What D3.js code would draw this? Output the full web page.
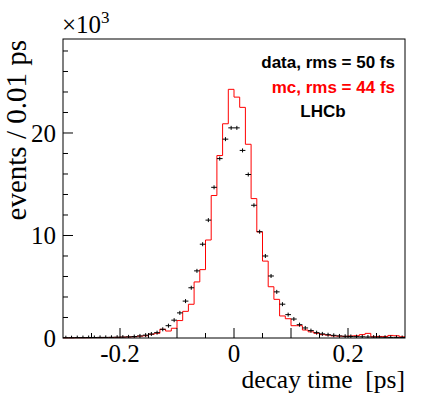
<!DOCTYPE html>
<html>
<head>
<meta charset="utf-8">
<script src="https://cdn.jsdelivr.net/npm/d3@7"></script>
<style>
  html, body { margin: 0; padding: 0; background: #fff; }
  svg { display: block; }
  .serif { font-family: "Liberation Serif", "Times New Roman", serif; }
  .sans { font-family: "Liberation Sans", Arial, sans-serif; font-weight: bold; }
</style>
</head>
<body>
<svg id="chart" width="427" height="398"></svg>
<script>
// decay time histogram, 60 bins of 0.01 ps from -0.3 to 0.3
const binLow = -0.3;
const binWidth = 0.01;

// data counts (black points)
const dataCounts = [
  30, 30, 40, 40, 50, 50, 60, 60, 70, 80,
  90, 110, 140, 200, 280, 390, 520, 850, 1200, 1740,
  2450, 3600, 4900, 6550, 9150, 11500, 14700, 17500, 19400, 20500,
  20500, 18300, 15950, 12950, 10370, 8000, 6050, 4500, 3300, 2280,
  1850, 1300, 980, 720, 520, 400, 320, 260, 200, 170,
  150, 130, 120, 100, 90, 80, 70, 60, 60, 50
];

// simulation counts (red histogram)
const mcCounts = [
  20, 20, 30, 30, 30, 40, 40, 50, 50, 60,
  80, 100, 120, 180, 220, 360, 460, 850, 680, 950,
  1700, 2600, 3290, 5470, 6670, 9560, 13900, 17800, 20900, 24260,
  23500, 22500, 18900, 13600, 10350, 7500, 5000, 3770, 2150, 1880,
  1200, 1200, 780, 600, 460, 330, 280, 200, 180, 160,
  200, 220, 330, 450, 120, 150, 150, 250, 220, 120
];

const xTickLabels = ["-0.2", "0", "0.2"];
const yTickLabels = ["0", "10", "20"];
const legendLines = [
  { text: "data, rms = 50 fs", color: "#000" },
  { text: "mc, rms = 44 fs", color: "#ff0000" },
];

const frame = { left: 63, right: 405, top: 39, bottom: 338 };

const svg = d3.select("#chart");

const x = d3.scaleLinear().domain([-0.3, 0.3]).range([frame.left, frame.right]);
const y = d3.scaleLinear().domain([0, 29170]).range([frame.bottom, frame.top]);

// red histogram as a step line
const mcPoints = mcCounts.map((c, i) => [binLow + i * binWidth, c]);
mcPoints.push([binLow + mcCounts.length * binWidth, mcCounts[mcCounts.length - 1]]);
const step = d3.line()
  .x(d => x(d[0]))
  .y(d => y(d[1]))
  .curve(d3.curveStepAfter);

svg.append("path")
  .attr("d", step(mcPoints))
  .attr("fill", "none")
  .attr("stroke", "#ff0000")
  .attr("stroke-width", 1);

// data points with error bars
const pts = svg.append("g").attr("stroke", "#000").attr("stroke-width", 1);
dataCounts.forEach((c, i) => {
  const x0 = x(binLow + i * binWidth);
  const x1 = x(binLow + (i + 1) * binWidth);
  const xc = (x0 + x1) / 2;
  const yc = y(c);
  const err = Math.max(y(0) - y(Math.sqrt(c)), 2);
  pts.append("line").attr("x1", x0).attr("x2", x1).attr("y1", yc).attr("y2", yc);
  pts.append("line").attr("x1", xc).attr("x2", xc).attr("y1", yc - err).attr("y2", Math.min(yc + err, frame.bottom));
});

// frame
svg.append("rect")
  .attr("x", frame.left).attr("y", frame.top)
  .attr("width", frame.right - frame.left)
  .attr("height", frame.bottom - frame.top)
  .attr("fill", "none").attr("stroke", "#000").attr("stroke-width", 1);

// x ticks
const xt = svg.append("g").attr("stroke", "#000");
d3.range(-0.25, 0.26, 0.05).forEach(v => {
  const major = Math.abs(Math.round(v * 100) % 10) === 0;
  xt.append("line")
    .attr("x1", x(v)).attr("x2", x(v))
    .attr("y1", frame.bottom).attr("y2", frame.bottom - (major ? 10 : 5));
});
svg.append("g").selectAll("text")
  .data(xTickLabels)
  .join("text")
  .attr("class", "serif")
  .attr("x", d => x(+d))
  .attr("y", 362)
  .attr("text-anchor", "middle")
  .attr("font-size", 25)
  .text(d => d);

// y ticks
const yt = svg.append("g").attr("stroke", "#000");
d3.range(2000, 29000, 2000).forEach(v => {
  const major = v % 10000 === 0;
  yt.append("line")
    .attr("x1", frame.left).attr("x2", frame.left + (major ? 10 : 5))
    .attr("y1", y(v)).attr("y2", y(v));
});
svg.append("g").selectAll("text")
  .data(yTickLabels)
  .join("text")
  .attr("class", "serif")
  .attr("x", 56)
  .attr("y", d => y(+d * 1000))
  .attr("dy", "0.35em")
  .attr("text-anchor", "end")
  .attr("font-size", 25)
  .text(d => d);

// exponent
const expo = svg.append("text")
  .attr("class", "serif")
  .attr("x", 62).attr("y", 33)
  .attr("font-size", 25);
expo.append("tspan").text("\u00d710");
expo.append("tspan").attr("font-size", 17).attr("dy", -10).text("3");

// axis titles
svg.append("text")
  .attr("class", "serif")
  .attr("x", frame.right).attr("y", 388)
  .attr("text-anchor", "end")
  .attr("font-size", 25.5)
  .style("white-space", "pre")
  .text("decay time  [ps]");

svg.append("text")
  .attr("class", "serif")
  .attr("transform", `translate(26,${frame.top + 1}) rotate(-90)`)
  .attr("text-anchor", "end")
  .attr("font-size", 29)
  .text("events / 0.01 ps");

// legend
svg.append("g").selectAll("text")
  .data(legendLines)
  .join("text")
  .attr("class", "sans")
  .attr("x", 395)
  .attr("y", (d, i) => 68 + i * 25)
  .attr("text-anchor", "end")
  .attr("font-size", 17)
  .attr("fill", d => d.color)
  .text(d => d.text);

svg.append("text")
  .attr("class", "sans")
  .attr("x", 323).attr("y", 117)
  .attr("text-anchor", "middle")
  .attr("font-size", 17)
  .text("LHCb");
</script>
</body>
</html>
